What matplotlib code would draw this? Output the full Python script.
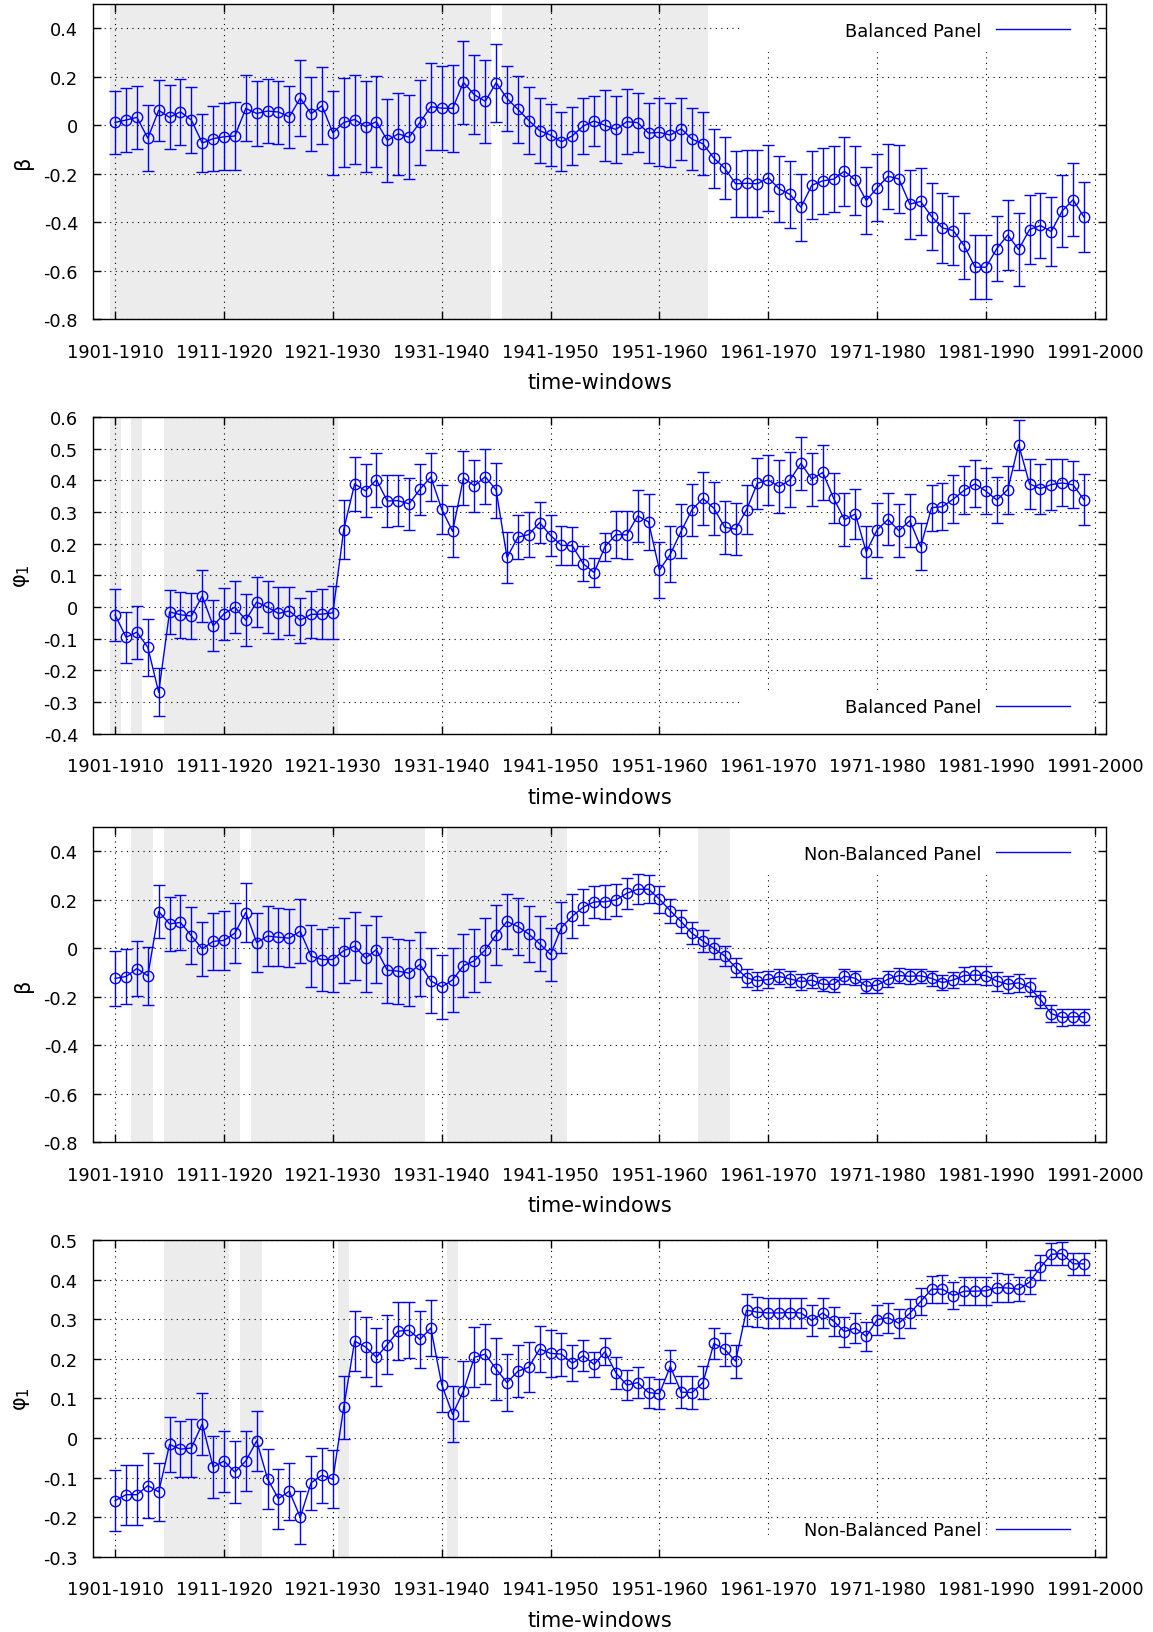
import numpy as np
import matplotlib

matplotlib.use("Agg")
import matplotlib.pyplot as plt
from matplotlib.lines import Line2D
from matplotlib.patches import Rectangle
from matplotlib.ticker import FuncFormatter

plt.rcParams["font.family"] = ["DejaVu Sans"]
plt.rcParams["axes.unicode_minus"] = False

windows = ["1901-1910", "1911-1920", "1921-1930", "1931-1940", "1941-1950",
           "1951-1960", "1961-1970", "1971-1980", "1981-1990", "1991-2000"]

# balanced panel, beta
beta_bal = [
    0.011, 0.021, 0.032, -0.054, 0.061, 0.032, 0.055, 0.021, -0.074, -0.056,
    -0.048, -0.045, 0.069, 0.048, 0.058, 0.054, 0.034, 0.111, 0.047, 0.080,
    -0.032, 0.011, 0.023, -0.006, 0.014, -0.063, -0.036, -0.050, 0.011, 0.076,
    0.070, 0.069, 0.176, 0.125, 0.098, 0.175, 0.110, 0.065, 0.019, -0.023,
    -0.041, -0.069, -0.044, -0.004, 0.017, -0.001, -0.018, 0.014, 0.010, -0.033,
    -0.030, -0.041, -0.015, -0.058, -0.077, -0.136, -0.178, -0.242, -0.240, -0.242,
    -0.217, -0.263, -0.286, -0.339, -0.248, -0.230, -0.223, -0.190, -0.227, -0.311,
    -0.259, -0.211, -0.222, -0.326, -0.315, -0.377, -0.424, -0.435, -0.498, -0.586,
    -0.586, -0.509, -0.453, -0.513, -0.431, -0.414, -0.439, -0.354, -0.308, -0.379,
]
beta_bal_err = [
    0.129, 0.132, 0.130, 0.136, 0.126, 0.132, 0.136, 0.136, 0.120, 0.134,
    0.139, 0.140, 0.136, 0.133, 0.131, 0.130, 0.128, 0.156, 0.153, 0.158,
    0.172, 0.182, 0.185, 0.188, 0.188, 0.171, 0.170, 0.174, 0.175, 0.180,
    0.173, 0.178, 0.173, 0.163, 0.170, 0.161, 0.134, 0.138, 0.138, 0.134,
    0.128, 0.122, 0.120, 0.115, 0.103, 0.146, 0.138, 0.135, 0.122, 0.125,
    0.140, 0.131, 0.128, 0.129, 0.130, 0.122, 0.128, 0.137, 0.139, 0.139,
    0.136, 0.137, 0.139, 0.138, 0.141, 0.135, 0.137, 0.142, 0.142, 0.139,
    0.138, 0.133, 0.139, 0.142, 0.137, 0.137, 0.144, 0.141, 0.137, 0.133,
    0.132, 0.134, 0.143, 0.150, 0.141, 0.134, 0.144, 0.148, 0.150, 0.145,
]
beta_bal_shade = [(0, 34), (36, 54)]

# balanced panel, phi_1
phi_bal = [
    -0.025, -0.095, -0.079, -0.127, -0.269, -0.015, -0.024, -0.028, 0.035, -0.059,
    -0.021, 0.000, -0.041, 0.016, 0.000, -0.020, -0.012, -0.041, -0.023, -0.022,
    -0.018, 0.245, 0.389, 0.367, 0.402, 0.335, 0.336, 0.326, 0.372, 0.411,
    0.309, 0.239, 0.408, 0.383, 0.412, 0.369, 0.157, 0.221, 0.229, 0.267,
    0.226, 0.195, 0.194, 0.137, 0.109, 0.191, 0.229, 0.228, 0.288, 0.269,
    0.117, 0.167, 0.240, 0.308, 0.343, 0.312, 0.252, 0.246, 0.307, 0.391,
    0.401, 0.380, 0.402, 0.454, 0.404, 0.425, 0.344, 0.276, 0.294, 0.174,
    0.244, 0.277, 0.241, 0.273, 0.191, 0.314, 0.317, 0.341, 0.369, 0.389,
    0.366, 0.338, 0.371, 0.513, 0.389, 0.374, 0.387, 0.392, 0.386, 0.339,
]
phi_bal_err = [
    0.082, 0.081, 0.084, 0.090, 0.076, 0.070, 0.072, 0.073, 0.082, 0.081,
    0.082, 0.083, 0.081, 0.079, 0.081, 0.082, 0.077, 0.071, 0.075, 0.078,
    0.084, 0.094, 0.084, 0.084, 0.085, 0.082, 0.081, 0.081, 0.080, 0.076,
    0.077, 0.081, 0.085, 0.082, 0.087, 0.087, 0.080, 0.069, 0.070, 0.066,
    0.065, 0.061, 0.060, 0.055, 0.046, 0.044, 0.073, 0.075, 0.082, 0.088,
    0.088, 0.088, 0.086, 0.082, 0.083, 0.083, 0.083, 0.082, 0.077, 0.081,
    0.080, 0.083, 0.087, 0.084, 0.084, 0.088, 0.079, 0.084, 0.080, 0.082,
    0.085, 0.082, 0.083, 0.084, 0.073, 0.073, 0.075, 0.077, 0.076, 0.074,
    0.072, 0.073, 0.076, 0.079, 0.079, 0.079, 0.079, 0.074, 0.074, 0.081,
]
phi_bal_shade = [(0, 0), (2, 2), (5, 20)]

# non-balanced panel, beta
beta_nb = [
    -0.125, -0.117, -0.084, -0.114, 0.151, 0.100, 0.106, 0.051, -0.003, 0.028,
    0.032, 0.062, 0.147, 0.023, 0.050, 0.045, 0.041, 0.070, -0.033, -0.047,
    -0.047, -0.010, 0.008, -0.041, -0.006, -0.091, -0.095, -0.103, -0.067, -0.135,
    -0.160, -0.131, -0.072, -0.052, -0.007, 0.055, 0.110, 0.089, 0.058, 0.018,
    -0.026, 0.085, 0.132, 0.169, 0.191, 0.191, 0.199, 0.226, 0.243, 0.243,
    0.202, 0.154, 0.109, 0.061, 0.029, -0.001, -0.032, -0.080, -0.122, -0.135,
    -0.129, -0.117, -0.127, -0.138, -0.132, -0.149, -0.149, -0.116, -0.124, -0.157,
    -0.153, -0.128, -0.113, -0.116, -0.114, -0.125, -0.142, -0.131, -0.113, -0.111,
    -0.113, -0.136, -0.149, -0.143, -0.162, -0.212, -0.270, -0.286, -0.283, -0.283,
]
beta_nb_err = [
    0.114, 0.113, 0.113, 0.120, 0.109, 0.110, 0.115, 0.118, 0.110, 0.119,
    0.123, 0.124, 0.120, 0.121, 0.122, 0.120, 0.120, 0.131, 0.129, 0.128,
    0.133, 0.134, 0.141, 0.138, 0.138, 0.135, 0.134, 0.135, 0.132, 0.134,
    0.131, 0.131, 0.130, 0.130, 0.131, 0.123, 0.114, 0.116, 0.116, 0.113,
    0.110, 0.105, 0.090, 0.074, 0.065, 0.071, 0.067, 0.065, 0.062, 0.058,
    0.055, 0.050, 0.048, 0.045, 0.044, 0.043, 0.040, 0.038, 0.038, 0.037,
    0.035, 0.031, 0.032, 0.033, 0.031, 0.029, 0.031, 0.030, 0.030, 0.030,
    0.031, 0.033, 0.031, 0.031, 0.030, 0.030, 0.031, 0.033, 0.035, 0.036,
    0.038, 0.039, 0.035, 0.036, 0.037, 0.036, 0.035, 0.036, 0.033, 0.033,
]
beta_nb_shade = [(2, 3), (5, 11), (13, 28), (31, 41), (54, 56)]

# non-balanced panel, phi_1
phi_nb = [
    -0.158, -0.143, -0.143, -0.120, -0.136, -0.016, -0.028, -0.025, 0.036, -0.073,
    -0.058, -0.086, -0.058, -0.007, -0.103, -0.153, -0.134, -0.200, -0.113, -0.094,
    -0.104, 0.078, 0.245, 0.230, 0.204, 0.236, 0.270, 0.272, 0.249, 0.278,
    0.135, 0.060, 0.119, 0.204, 0.212, 0.174, 0.140, 0.169, 0.179, 0.225,
    0.214, 0.212, 0.189, 0.208, 0.186, 0.218, 0.165, 0.134, 0.140, 0.115,
    0.112, 0.181, 0.116, 0.115, 0.140, 0.239, 0.224, 0.194, 0.323, 0.318,
    0.316, 0.316, 0.317, 0.316, 0.297, 0.316, 0.295, 0.269, 0.278, 0.257,
    0.299, 0.304, 0.290, 0.315, 0.345, 0.376, 0.376, 0.360, 0.371, 0.371,
    0.372, 0.380, 0.379, 0.376, 0.394, 0.431, 0.464, 0.466, 0.440, 0.440,
]
phi_nb_err = [
    0.077, 0.076, 0.076, 0.082, 0.073, 0.069, 0.071, 0.073, 0.079, 0.078,
    0.077, 0.079, 0.076, 0.075, 0.076, 0.076, 0.072, 0.067, 0.068, 0.069,
    0.073, 0.080, 0.075, 0.075, 0.073, 0.074, 0.073, 0.071, 0.071, 0.070,
    0.070, 0.071, 0.076, 0.076, 0.076, 0.079, 0.072, 0.065, 0.063, 0.059,
    0.059, 0.054, 0.046, 0.039, 0.032, 0.034, 0.040, 0.039, 0.039, 0.039,
    0.038, 0.041, 0.041, 0.042, 0.041, 0.040, 0.042, 0.042, 0.041, 0.038,
    0.039, 0.039, 0.038, 0.037, 0.038, 0.038, 0.037, 0.038, 0.039, 0.037,
    0.038, 0.038, 0.037, 0.037, 0.035, 0.034, 0.035, 0.034, 0.036, 0.035,
    0.036, 0.037, 0.035, 0.031, 0.031, 0.031, 0.028, 0.029, 0.028, 0.028,
]
phi_nb_shade = [(5, 10), (12, 13), (21, 21), (31, 31)]

panels = [
    (beta_bal, beta_bal_err, beta_bal_shade, "β", (-0.8, 0.5), 0.2,
     "Balanced Panel", "upper right"),
    (phi_bal, phi_bal_err, phi_bal_shade, "φ$_1$", (-0.4, 0.6), 0.1,
     "Balanced Panel", "lower right"),
    (beta_nb, beta_nb_err, beta_nb_shade, "β", (-0.8, 0.5), 0.2,
     "Non-Balanced Panel", "upper right"),
    (phi_nb, phi_nb_err, phi_nb_shade, "φ$_1$", (-0.3, 0.5), 0.1,
     "Non-Balanced Panel", "lower right"),
]

# axes boxes as fractions of the figure (left, bottom, width, height)
boxes = [
    (0.081, 0.804, 0.878, 0.193),
    (0.081, 0.550, 0.878, 0.194),
    (0.081, 0.300, 0.878, 0.193),
    (0.081, 0.046, 0.878, 0.194),
]
# area hidden behind the key (x0, y0, x1, y1 in data units)
key_areas = [
    (57.6, 0.30, 89.6, 0.5),
    (57.7, -0.4, 89.6, -0.262),
    (51.0, 0.30, 89.6, 0.5),
    (51.0, -0.3, 89.6, -0.246),
]


def fmt_tick(v, pos):
    if abs(v) < 1e-9:
        return "0"
    return f"{v:.1f}"


fig = plt.figure(figsize=(11.53, 16.33), dpi=100)

for (vals, err, shade, ylab, ylim, ystep, leg, legloc), box, key in zip(
        panels, boxes, key_areas):
    ax = fig.add_axes(box)
    x = np.arange(len(vals))
    kx0, ky0, kx1, ky1 = key

    # white key area over the grid, shading shown again on top of it
    ax.add_patch(Rectangle((kx0, ky0), kx1 - kx0, ky1 - ky0, facecolor="white",
                           edgecolor="none", zorder=1.6))
    for s, e in shade:
        ax.axvspan(s - 0.5, e + 0.5, color="#ececec", lw=0, zorder=0.5)
        lo, hi = max(s - 0.5, kx0), min(e + 0.5, kx1)
        if hi > lo:
            ax.add_patch(Rectangle((lo, ky0), hi - lo, ky1 - ky0,
                                   facecolor="#ececec", edgecolor="none",
                                   zorder=1.7))

    ax.errorbar(x, vals, yerr=err, fmt="-o", color="blue", mfc="none",
                mec="blue", ms=7.5, mew=1, lw=1, elinewidth=1,
                capsize=4.5, capthick=1, zorder=3)

    ax.set_xlim(-2, 91)
    ax.set_ylim(*ylim)
    ax.set_xticks(np.arange(0, 91, 10))
    ax.set_xticklabels(windows)
    yt = np.round(np.arange(ylim[0], ylim[1] + ystep, ystep), 3)
    ax.set_yticks(yt[yt <= ylim[1] + 1e-9])
    ax.yaxis.set_major_formatter(FuncFormatter(fmt_tick))
    ax.tick_params(direction="in", top=True, right=True, length=6,
                   width=1, labelsize=12.8)
    ax.tick_params(axis="x", pad=17)
    ax.tick_params(axis="y", pad=11)
    ax.grid(True, color="black", linestyle=(0, (1, 4)), linewidth=0.8)

    ax.set_xlabel("time-windows", fontsize=15, labelpad=8)
    ax.set_ylabel(ylab, fontsize=15, labelpad=8)
    for sp in ax.spines.values():
        sp.set_linewidth(1)

    anchor = (0.9825, 1.0) if legloc == "upper right" else (0.9825, 0.0)
    handle = Line2D([], [], color="blue", lw=1)
    lg = ax.legend([handle], [leg], loc=legloc, bbox_to_anchor=anchor,
                   markerfirst=False, frameon=False, fontsize=12.8,
                   handlelength=4.2, borderpad=0.8, borderaxespad=0.2)
    lg.set_zorder(2.5)

fig.savefig("out.png", dpi=100)
